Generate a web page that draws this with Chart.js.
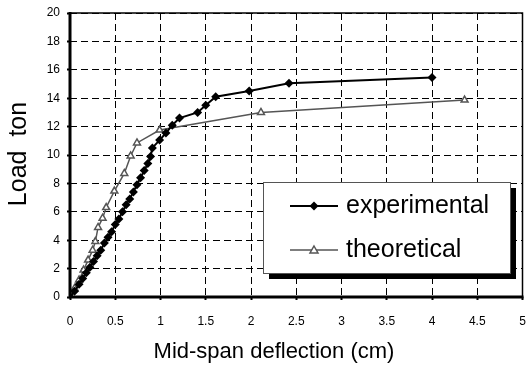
<!DOCTYPE html>
<html><head><meta charset="utf-8">
<script src="https://cdn.jsdelivr.net/npm/chart.js@4"></script>
<style>html,body{margin:0;padding:0;background:#fff}#w{width:528px;height:370px}</style>
</head><body><div id="w"><canvas id="c" width="528" height="370"></canvas></div>
<script>
const expX = [0,0.05,0.1,0.14,0.18,0.22,0.26,0.3,0.34,0.38,0.42,0.46,0.5,0.54,0.58,0.62,0.66,0.7,0.74,0.78,0.82,0.86,0.89,0.91,0.99,1.06,1.13,1.21,1.41,1.5,1.61,1.98,2.42,4.0];
const expY = [0,0.4,0.9,1.3,1.7,2.1,2.5,2.9,3.3,3.8,4.2,4.6,5.1,5.5,6.0,6.5,6.9,7.4,7.9,8.4,8.9,9.4,9.9,10.5,11.05,11.55,12.1,12.6,13.0,13.5,14.1,14.5,15.05,15.45];
const theoX = [0,0.05,0.1,0.15,0.2,0.25,0.28,0.31,0.36,0.40,0.49,0.6,0.67,0.74,0.99,2.11,4.36];
const theoY = [0,0.6,1.2,1.9,2.6,3.3,3.9,4.9,5.55,6.3,7.46,8.7,9.93,10.85,11.76,13.0,13.87];
const seriesNames = ['experimental','theoretical'];
const xTitle = 'Mid-span deflection (cm)';
const yTitle = 'Load  ton';
const FONT = "'Liberation Sans', Arial, sans-serif";

const toPts = (xs, ys) => xs.map((x, i) => ({x, y: ys[i]}));

const frame = {
  id: 'frame',
  afterDraw(chart) {
    const {ctx, chartArea: a} = chart;
    ctx.save();
    ctx.strokeStyle = '#000';
    ctx.lineWidth = 1.5;
    ctx.beginPath();
    ctx.moveTo(a.left, a.top); ctx.lineTo(a.right, a.top); ctx.lineTo(a.right, a.bottom);
    ctx.stroke();
    ctx.lineWidth = 3;
    ctx.beginPath();
    ctx.moveTo(a.left, a.top - 1); ctx.lineTo(a.left, a.bottom); ctx.lineTo(a.right + 1, a.bottom);
    ctx.stroke();
    // axis titles
    ctx.fillStyle = '#000';
    ctx.font = '22px ' + FONT;
    ctx.textAlign = 'center'; ctx.textBaseline = 'middle';
    ctx.fillText(xTitle, 274, 352);
    ctx.save();
    ctx.translate(19, 154); ctx.rotate(-Math.PI / 2);
    ctx.font = '25px ' + FONT;
    ctx.fillText(yTitle, 0, 0);
    ctx.restore();
    // legend
    const bx = 263, by = 182, bw = 247, bh = 91;
    ctx.fillStyle = '#000';
    ctx.fillRect(bx + 6, by + 6, bw, bh);
    ctx.fillStyle = '#fff';
    ctx.fillRect(bx, by, bw, bh);
    ctx.strokeStyle = '#555'; ctx.lineWidth = 1;
    ctx.strokeRect(bx + 0.5, by + 0.5, bw, bh);
    const rows = [{y: by + 24, c: '#000', lw: 2}, {y: by + 68, c: '#555', lw: 1.5}];
    rows.forEach((r, i) => {
      ctx.strokeStyle = r.c; ctx.lineWidth = r.lw;
      ctx.beginPath(); ctx.moveTo(290, r.y); ctx.lineTo(338, r.y); ctx.stroke();
      const cx = 314;
      if (i === 0) {
        ctx.fillStyle = '#000';
        ctx.beginPath(); ctx.moveTo(cx, r.y - 4.5); ctx.lineTo(cx + 4.5, r.y); ctx.lineTo(cx, r.y + 4.5); ctx.lineTo(cx - 4.5, r.y); ctx.closePath(); ctx.fill();
      } else {
        ctx.fillStyle = '#fff'; ctx.strokeStyle = '#555'; ctx.lineWidth = 1.5;
        ctx.beginPath(); ctx.moveTo(cx, r.y - 4); ctx.lineTo(cx + 4, r.y + 3); ctx.lineTo(cx - 4, r.y + 3); ctx.closePath(); ctx.fill(); ctx.stroke();
      }
      ctx.fillStyle = '#000';
      ctx.font = '25px ' + FONT;
      ctx.textBaseline = 'middle'; ctx.textAlign = 'left';
      ctx.fillText(seriesNames[i], 346, r.y);
    });
    ctx.restore();
  }
};

new Chart(document.getElementById('c'), {
  type: 'scatter',
  data: {
    datasets: [
      {label: seriesNames[0], data: toPts(expX, expY), showLine: true, borderColor: '#000', backgroundColor: '#000', borderWidth: 2, pointStyle: 'rectRot', pointRadius: 4.5, pointBorderWidth: 0},
      {label: seriesNames[1], data: toPts(theoX, theoY), showLine: true, borderColor: '#555', backgroundColor: '#fff', borderWidth: 1.5, pointStyle: 'triangle', pointRadius: 4, pointBorderColor: '#555', pointBorderWidth: 1.5}
    ]
  },
  options: {
    responsive: false, animation: false, devicePixelRatio: 1,
    layout: {padding: {top: 13, right: 2, left: 0, bottom: 0}},
    plugins: {legend: {display: false}, tooltip: {enabled: false}},
    scales: {
      x: {
        type: 'linear', min: 0, max: 5,
        ticks: {stepSize: 0.5, color: '#000', font: {family: FONT, size: 12}, padding: 14, maxRotation: 0,
          callback: v => String(Math.round(v * 10) / 10)},
        grid: {color: '#000', lineWidth: 1, drawTicks: true, tickLength: 3, tickColor: '#000', tickWidth: 2},
        border: {display: false, dash: [7, 4]},
        title: {display: false},
        afterFit(s) { s.height = 73; s.paddingRight = 0; s.paddingLeft = 0; }
      },
      y: {
        min: 0, max: 20,
        ticks: {stepSize: 2, color: '#000', font: {family: FONT, size: 12}, padding: 7},
        grid: {color: '#000', lineWidth: 1, drawTicks: true, tickLength: 3, tickColor: '#000', tickWidth: 2},
        border: {display: false, dash: [7, 4]},
        title: {display: false},
        afterFit(s) { s.width = 70; s.paddingTop = 0; s.paddingBottom = 0; }
      }
    }
  },
  plugins: [frame]
});
</script>
</body></html>
